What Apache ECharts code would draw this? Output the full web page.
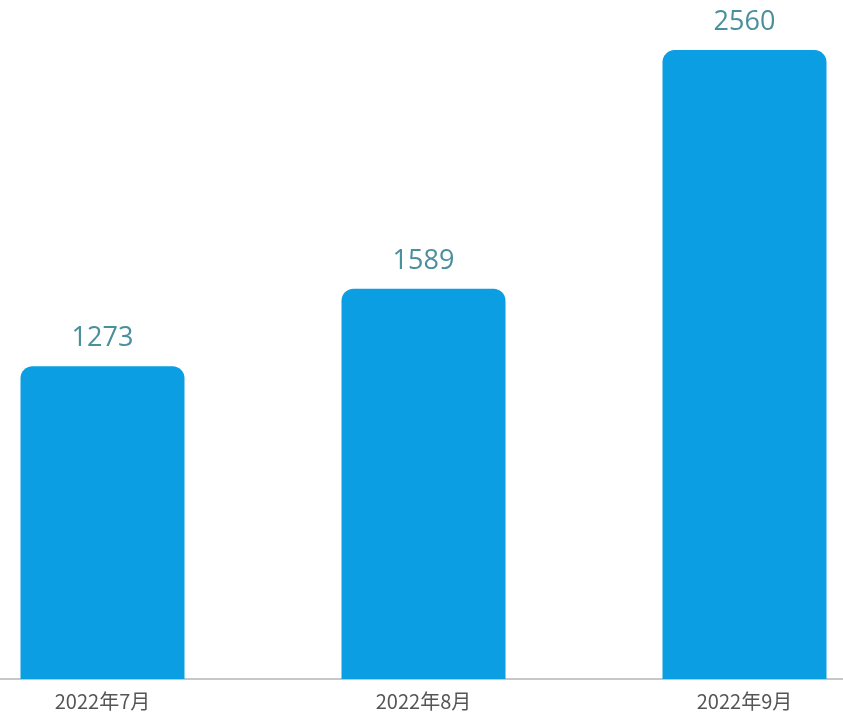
<!DOCTYPE html>
<html>
<head>
<meta charset="utf-8">
<script src="https://cdn.jsdelivr.net/npm/echarts@6/dist/echarts.min.js"></script>
<style>
  html, body { margin: 0; padding: 0; background: #fff; overflow: hidden; }
  #main { width: 963px; height: 725px; margin-left: -58px; }
</style>
</head>
<body>
<div id="main"></div>
<script>
var months = ['2022年7月', '2022年8月', '2022年9月'];
var counts = [1273, 1589, 2560];

var myChart = echarts.init(document.getElementById('main'));
myChart.setOption({
  animation: false,
  grid: { left: 0, right: 0, top: 0, bottom: 46 },
  xAxis: {
    type: 'category',
    data: months,
    axisLine: { lineStyle: { color: '#b5b5b5', width: 1.5 } },
    axisTick: { show: false },
    axisLabel: {
      margin: 12,
      fontSize: 20,
      color: '#555',
      fontFamily: '"Noto Sans CJK SC", sans-serif'
    }
  },
  yAxis: {
    type: 'value',
    min: 0,
    max: 2764,
    show: false
  },
  series: [{
    type: 'bar',
    data: counts,
    barWidth: 164,
    itemStyle: { color: '#0b9ee2', borderRadius: [12, 12, 0, 0] },
    label: {
      show: true,
      position: 'top',
      distance: 14,
      fontSize: 27,
      color: '#4a8f9c',
      fontFamily: '"Open Sans", sans-serif'
    }
  }]
});
</script>
</body>
</html>
